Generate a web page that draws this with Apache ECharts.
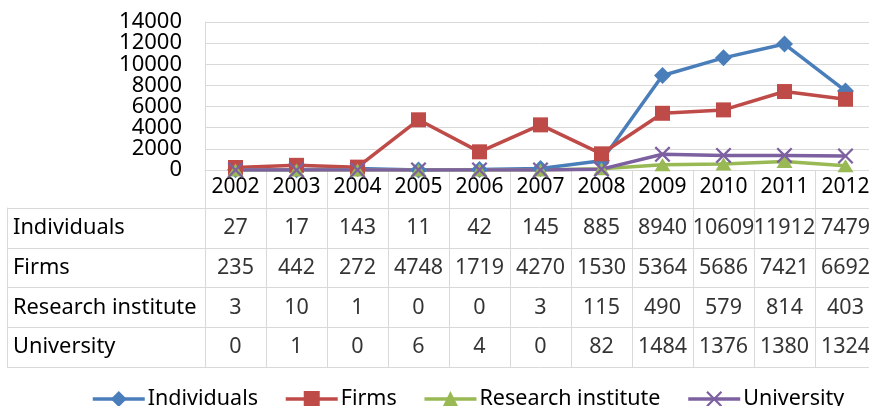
<!DOCTYPE html>
<html>
<head>
<meta charset="utf-8">
<script src="https://cdn.jsdelivr.net/npm/echarts@6/dist/echarts.min.js"></script>
<style>
  html, body { margin: 0; padding: 0; background: #fff; overflow: hidden; }
  #main { width: 876px; height: 406px; }
</style>
</head>
<body>
<div id="main"></div>
<script>
// years along the axis / header row of the table
var years = ['2002', '2003', '2004', '2005', '2006', '2007', '2008', '2009', '2010', '2011', '2012']
var individuals = [27, 17, 143, 11, 42, 145, 885, 8940, 10609, 11912, 7479]
var firms = [235, 442, 272, 4748, 1719, 4270, 1530, 5364, 5686, 7421, 6692]
var research = [3, 10, 1, 0, 0, 3, 115, 490, 579, 814, 403]
var university = [0, 1, 0, 6, 4, 0, 82, 1484, 1376, 1380, 1324]
var seriesNames = ['Individuals', 'Firms', 'Research institute', 'University']
var yTicks = { min: 0, max: 14000, interval: 2000 }

var font = 'Noto Sans'
var gridColor = '#d9d9d9'
var colors = ['#4a7ebb', '#be4b48', '#98b954', '#7d60a0']
// X marker drawn as a filled polygon so it can take the series colour
var crossPath = 'path://M0,1L1,0L5,4L9,0L10,1L6,5L10,9L9,10L5,6L1,10L0,9L4,5Z'
var symbols = ['diamond', 'rect', 'triangle', crossPath]
var symbolSizes = [17, 15, [16, 13], 16]

var allValues = [individuals, firms, research, university]

// table cells: [column, row, value]
var cells = []
for (let r = 0; r < allValues.length; r++) {
  for (let c = 0; c < years.length; c++) {
    cells.push([c, r, allValues[r][c]])
  }
}

var lineSeries = seriesNames.map(function (name, i) {
  return {
    name: name,
    type: 'line',
    xAxisIndex: 0,
    yAxisIndex: 0,
    data: allValues[i],
    symbol: symbols[i],
    symbolSize: symbolSizes[i],
    showAllSymbol: true,
    color: colors[i],
    lineStyle: { width: 3.5, color: colors[i] },
    itemStyle: { color: colors[i] },
    emphasis: { disabled: true }
  }
})

// the y labels sit closer than their height, so they are split over two
// identical axes (even / odd ticks) to keep every one of them visible
function yLabel (odd) {
  return {
    margin: 23,
    fontFamily: font,
    fontSize: 22,
    color: '#000',
    hideOverlap: false,
    showMinLabel: true,
    showMaxLabel: true,
    formatter: function (v) {
      let isOdd = Math.round(v / yTicks.interval) % 2 === 1
      return isOdd === odd ? String(v) : ''
    }
  }
}

var myChart = echarts.init(document.getElementById('main'))
var option = {
  animation: false,
  textStyle: { fontFamily: font },
  grid: [
    { left: 205, right: 0, top: 22, height: 148, outerBoundsMode: 'none' },
    { left: 205, right: 0, top: 208, height: 159, outerBoundsMode: 'none' }
  ],
  legend: {
    data: seriesNames,
    left: 86,
    top: 383,
    itemWidth: 52,
    itemHeight: 20,
    itemGap: 26,
    lineStyle: { width: 3.5 },
    textStyle: { fontFamily: font, fontSize: 21.5, color: '#000', padding: [0, 0, 0, -2] }
  },
  xAxis: [
    {
      gridIndex: 0,
      type: 'category',
      data: years,
      boundaryGap: true,
      axisLine: { show: true, lineStyle: { color: gridColor, width: 1 } },
      axisTick: { show: true, interval: 0, length: 38, lineStyle: { color: gridColor } },
      axisLabel: { interval: 0, margin: 7, fontFamily: font, fontSize: 21, color: '#000', hideOverlap: false },
      splitLine: { show: false }
    },
    {
      gridIndex: 1,
      type: 'category',
      data: years,
      boundaryGap: true,
      axisLine: { show: false },
      axisTick: { show: false },
      axisLabel: { show: false },
      splitLine: { show: true, interval: 0, lineStyle: { color: gridColor } }
    }
  ],
  yAxis: [
    {
      gridIndex: 0,
      type: 'value',
      min: yTicks.min,
      max: yTicks.max,
      interval: yTicks.interval,
      axisLine: { show: true, lineStyle: { color: gridColor } },
      axisTick: { show: false },
      axisLabel: yLabel(false),
      splitLine: { show: true, lineStyle: { color: gridColor } }
    },
    {
      gridIndex: 1,
      type: 'category',
      data: seriesNames,
      inverse: true,
      boundaryGap: true,
      axisLine: { show: true, lineStyle: { color: gridColor } },
      axisTick: { show: true, interval: 0, length: 198, lineStyle: { color: gridColor } },
      axisLabel: { interval: 0, align: 'left', margin: 192, fontFamily: font, fontSize: 21.8, color: '#000' },
      splitLine: { show: true, interval: 0, lineStyle: { color: gridColor } }
    },
    {
      // left border of the data table
      gridIndex: 1,
      type: 'category',
      data: seriesNames,
      position: 'left',
      offset: 198,
      axisLine: { show: true, lineStyle: { color: gridColor } },
      axisTick: { show: false },
      axisLabel: { show: false },
      splitLine: { show: false }
    },
    {
      gridIndex: 0,
      type: 'value',
      position: 'left',
      min: yTicks.min,
      max: yTicks.max,
      interval: yTicks.interval,
      axisLine: { show: false },
      axisTick: { show: false },
      axisLabel: yLabel(true),
      splitLine: { show: false }
    }
  ],
  series: lineSeries.concat([
    {
      name: 'table',
      type: 'scatter',
      xAxisIndex: 1,
      yAxisIndex: 1,
      data: cells,
      symbolSize: 1,
      itemStyle: { color: 'rgba(0,0,0,0)' },
      silent: true,
      label: {
        show: true,
        position: 'inside',
        fontFamily: font,
        fontSize: 21.5,
        color: '#000',
        formatter: function (p) { return String(p.value[2]) }
      }
    }
  ])
}
myChart.setOption(option)
</script>
</body>
</html>
